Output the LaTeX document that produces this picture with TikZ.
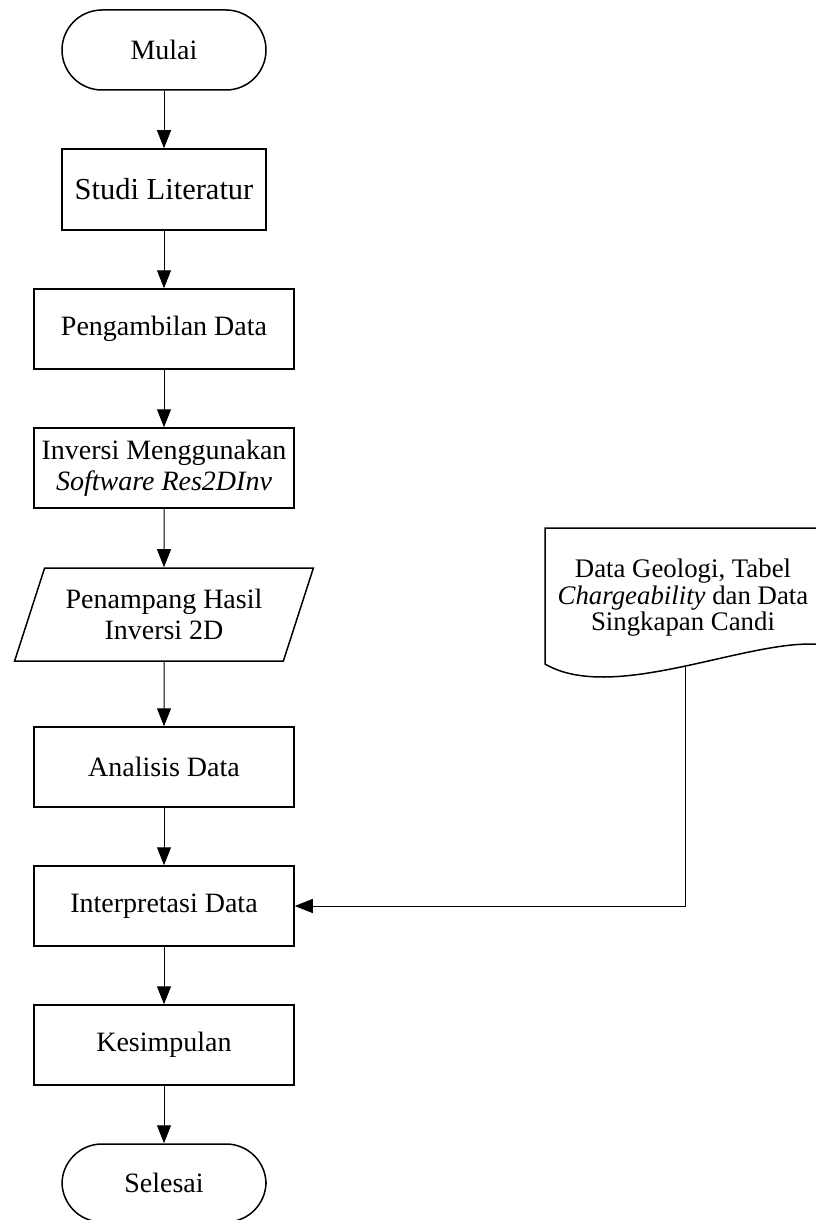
\documentclass[tikz,border=0pt]{standalone}
\usepackage{fontspec}
\setmainfont{Liberation Serif}
\usetikzlibrary{shapes.geometric,arrows.meta}

\tikzset{
  flowtext/.style={font={\fontsize{28}{31}\selectfont}, align=center, inner sep=0pt},
  terminal/.style={flowtext, draw, line width=1.5pt, rectangle, rounded corners=40pt, minimum width=204pt, minimum height=80pt},
  process/.style={flowtext, draw, line width=1.5pt, rectangle, minimum width=260pt, minimum height=80pt},
  iobox/.style={flowtext, draw, line width=1.5pt, trapezium, trapezium left angle=64, trapezium right angle=116, trapezium stretches=true, minimum width=299pt, minimum height=93pt},
  arrow/.style={-{Triangle[length=18pt,width=14pt]}, line width=1pt},
}

\begin{document}
\begin{tikzpicture}[x=1pt,y=-1pt]
\useasboundingbox (0,0) rectangle (816,1220);
\clip (0,0) rectangle (816,1220);

\node[terminal] (mulai) at (164,50) {Mulai};
\node[process, minimum width=204pt, minimum height=81pt, font={\fontsize{30.5}{33}\selectfont}] (studi) at (164,189.5) {Studi Literatur};
\node[process] (ambil) at (164,329) {Pengambilan Data};
\node[process] (inversi) at (164,468) {Inversi Menggunakan\\ \textit{Software Res2DInv}};
\node[iobox] (penampang) at (164,614.5) {Penampang Hasil\\ Inversi 2D};
\node[process] (analisis) at (164,767) {Analisis Data};
\node[process] (interp) at (164,906) {Interpretasi Data};
\node[process] (kesimpulan) at (164,1045) {Kesimpulan};
\node[terminal, minimum height=78pt] (selesai) at (164,1183) {Selesai};

% data pendukung (bentuk dokumen)
\draw[line width=1.5pt] (545,528) -- (825,528) -- (825,645) .. controls (755,635) and (615,705) .. (545,664) -- cycle;
\node[flowtext, font={\fontsize{26.8}{26.5}\selectfont}] (geologi) at (683,598) {Data Geologi, Tabel\\ \textit{Chargeability} dan Data\\ Singkapan Candi};
\coordinate (geologi-bawah) at (685,666);

\foreach \a/\b in {mulai/studi, studi/ambil, ambil/inversi, inversi/penampang, penampang/analisis, analisis/interp, interp/kesimpulan, kesimpulan/selesai}
	\draw[arrow] (\a) -- (\b);
\draw[arrow] (geologi-bawah) |- (interp.east);
\end{tikzpicture}
\end{document}
